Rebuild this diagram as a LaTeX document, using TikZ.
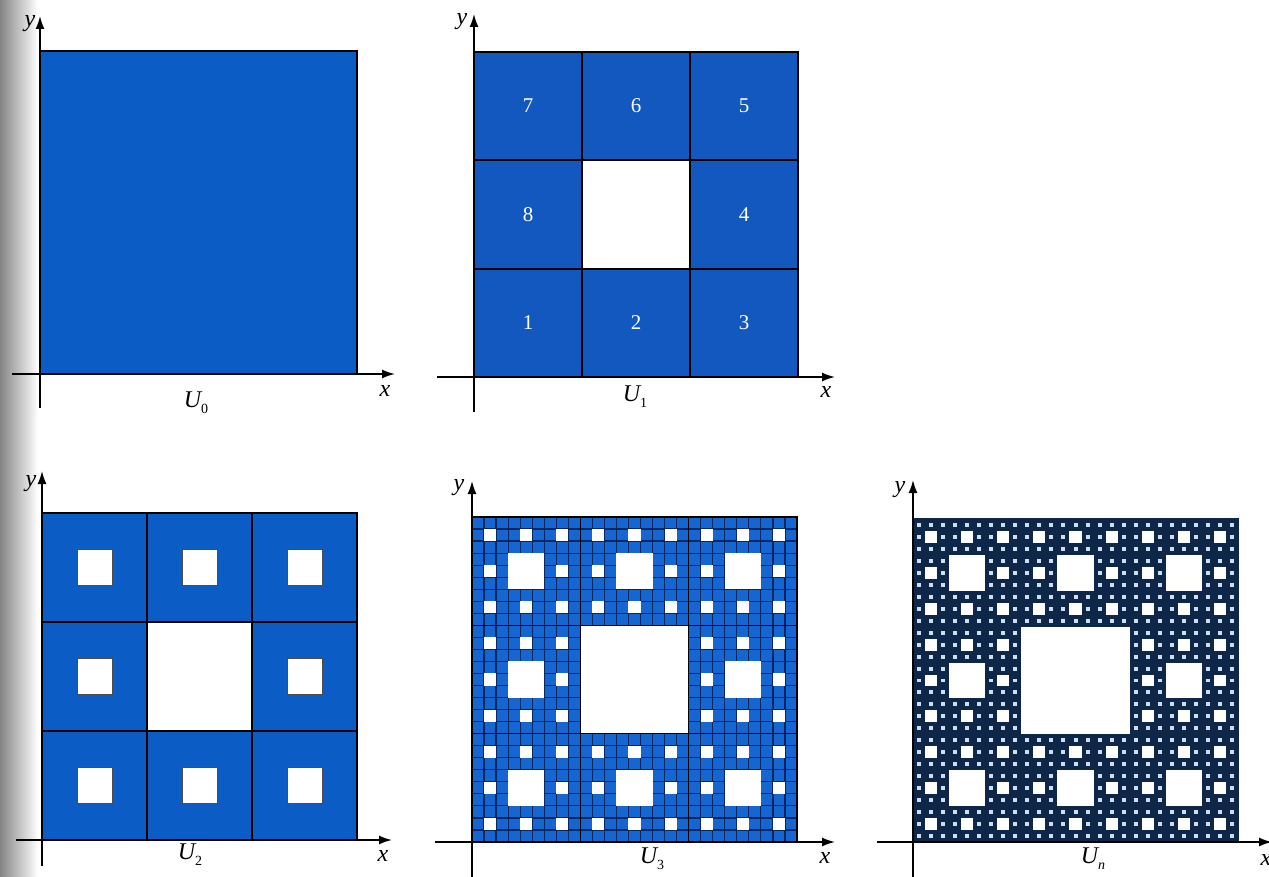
\documentclass[tikz,border=0pt]{standalone}
\usepackage{fontspec}
\setmainfont{Liberation Serif}
\usetikzlibrary{arrows.meta}
\definecolor{blueA}{RGB}{12,92,198}
\definecolor{blueB}{RGB}{18,88,190}
\definecolor{blueC}{RGB}{22,102,210}
\definecolor{gridC}{RGB}{8,38,95}
\definecolor{navy}{RGB}{14,38,72}
\definecolor{dotC}{RGB}{205,222,240}
\tikzset{
  axis/.style={line width=1.6pt,-{Latex[length=13pt,width=9pt]}},
  frame/.style={line width=2pt,black},
  lbl/.style={font=\fontsize{24}{24}\selectfont\itshape,inner sep=0pt},
  num/.style={font=\fontsize{21}{21}\selectfont,text=white,inner sep=0pt},
}
\newcommand\smallhole{white}
\newcommand\holedraw{none}
\newcommand\carpetholes[5]{%
  \ifnum#5>0
    \pgfmathsetmacro\cw{(#3)/3}\pgfmathsetmacro\ch{(#4)/3}%
    \ifnum#5=1
      \fill[fill=\smallhole,draw=\holedraw,line width=0.8pt] ({#1+\cw},{#2+\ch}) rectangle ++(\cw,\ch);
    \else
      \fill[fill=white,draw=\holedraw,line width=0.8pt] ({#1+\cw},{#2+\ch}) rectangle ++(\cw,\ch);
      \foreach \i in {0,1,2}{\foreach \j in {0,1,2}{%
        \ifnum\i\j=11 \else
          \pgfmathsetmacro\nx{#1+\i*\cw}\pgfmathsetmacro\ny{#2+\j*\ch}%
          \pgfmathtruncatemacro\nd{#5-1}%
          \carpetholes{\nx}{\ny}{\cw}{\ch}{\nd}%
        \fi}}%
    \fi
  \fi}
\newcommand\sub[1]{\raisebox{-6pt}{\fontsize{14}{14}\selectfont #1}}
\begin{document}
\begin{tikzpicture}[x=1pt,y=-1pt]
\useasboundingbox (0,0) rectangle (1269,877);
% scan shadow at the left edge
\shade[left color=black!48,right color=white] (0,0) rectangle (38,877);

% ---------- U0 ----------
\fill[blueA] (40,51) rectangle (357,374);
\draw[frame] (40,51) rectangle (357,374);
\coordinate (u0xs) at (12,374); \coordinate (u0xe) at (395,374);
\coordinate (u0ys) at (40,408); \coordinate (u0ye) at (40,16);
\draw[axis] (u0xs) -- (u0xe);
\draw[axis] (u0ys) -- (u0ye);
\node[lbl] (u0y) at (30,24) {y};
\node[lbl] (u0x) at (385,391) {x};
\node[lbl] (u0) at (196,403) {U\sub{\upshape 0}};

% ---------- U1 ----------
\fill[blueB] (474,52) rectangle (798,377);
\fill[white] (582,160) rectangle (690,269);
\foreach \k in {582,690} {\draw[frame] (\k,52) -- (\k,377);}
\foreach \k in {160,269} {\draw[frame] (474,\k) -- (798,\k);}
\draw[frame] (474,52) rectangle (798,377);
\coordinate (u1xs) at (437,377); \coordinate (u1xe) at (835,377);
\coordinate (u1ys) at (474,412); \coordinate (u1ye) at (474,14);
\draw[axis] (u1xs) -- (u1xe);
\draw[axis] (u1ys) -- (u1ye);
\node[lbl] (u1y) at (462,22) {y};
\node[lbl] (u1x) at (826,392) {x};
\node[lbl] (u1) at (635,397) {U\sub{\upshape 1}};
\node[num] (n7) at (528,106) {7};
\node[num] (n6) at (636,106) {6};
\node[num] (n5) at (744,106) {5};
\node[num] (n8) at (528,215) {8};
\node[num] (n4) at (744,215) {4};
\node[num] (n1) at (528,323) {1};
\node[num] (n2) at (636,323) {2};
\node[num] (n3) at (744,323) {3};

% ---------- U2 ----------
\fill[blueA] (42,513) rectangle (357,840);
\renewcommand\holedraw{black!70}
\carpetholes{42}{513}{315}{327}{2}
\renewcommand\holedraw{none}
\foreach \k in {147,252} {\draw[frame] (\k,513) -- (\k,840);}
\foreach \k in {622,731} {\draw[frame] (42,\k) -- (357,\k);}
\draw[frame] (42,513) rectangle (357,840);
\coordinate (u2xs) at (16,840); \coordinate (u2xe) at (392,840);
\coordinate (u2ys) at (42,866); \coordinate (u2ye) at (42,471);
\draw[axis] (u2xs) -- (u2xe);
\draw[axis] (u2ys) -- (u2ye);
\node[lbl] (u2y) at (31,484) {y};
\node[lbl] (u2x) at (383,856) {x};
\node[lbl] (u2) at (190,855) {U\sub{\upshape 2}};

% ---------- U3 ----------
\fill[blueC] (472,517) rectangle (797,842);
\foreach \k in {1,...,26} {
  \draw[gridC,line width=1.2pt] ({472+\k*325/27},517) -- ({472+\k*325/27},842);
  \draw[gridC,line width=1.2pt] (472,{517+\k*325/27}) -- (797,{517+\k*325/27});
}
\carpetholes{472}{517}{325}{325}{3}
\foreach \k in {580.33,688.67} {\draw[frame,line width=1.6pt] (\k,517) -- (\k,842);}
\foreach \k in {625.33,733.67} {\draw[frame,line width=1.6pt] (472,\k) -- (797,\k);}
\draw[frame] (472,517) rectangle (797,842);
\coordinate (u3xs) at (435,842); \coordinate (u3xe) at (835,842);
\coordinate (u3ys) at (472,877); \coordinate (u3ye) at (472,481);
\draw[axis] (u3xs) -- (u3xe);
\draw[axis] (u3ys) -- (u3ye);
\node[lbl] (u3y) at (459,488) {y};
\node[lbl] (u3x) at (825,858) {x};
\node[lbl] (u3) at (652,859) {U\sub{\upshape 3}};

% ---------- Un ----------
\fill[navy] (913,519) rectangle (1238,842);
\renewcommand\smallhole{dotC}
\carpetholes{913}{519}{325}{323}{4}
\renewcommand\smallhole{white}
\draw[line width=1.5pt,navy] (913,519) rectangle (1238,842);
\coordinate (unxs) at (877,842); \coordinate (unxe) at (1272,842);
\coordinate (unys) at (913,877); \coordinate (unye) at (913,480);
\draw[axis] (unxs) -- (unxe);
\draw[axis] (unys) -- (unye);
\node[lbl] (uny) at (900,490) {y};
\node[lbl] (unx) at (1266,860) {x};
\node[lbl] (un) at (1093,859) {U\sub{n}};
\end{tikzpicture}
\end{document}
